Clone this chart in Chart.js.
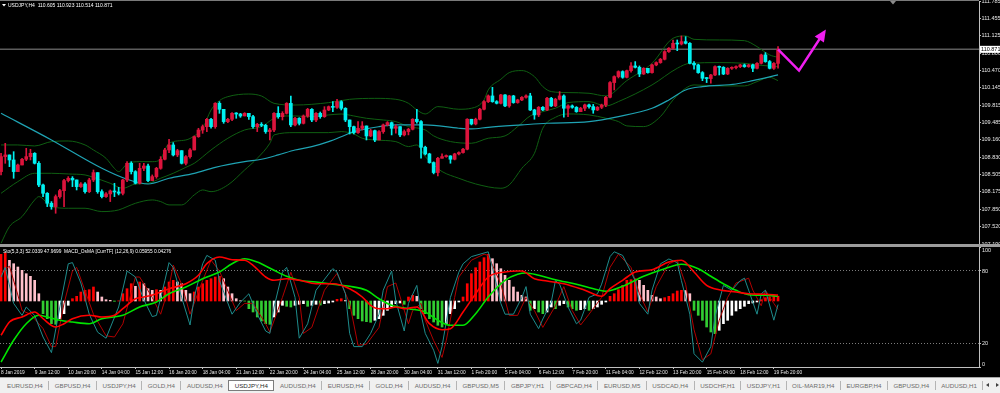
<!DOCTYPE html>
<html>
<head>
<meta charset="utf-8">
<script src="https://cdn.jsdelivr.net/npm/chart.js@4.4.0/dist/chart.umd.min.js"></script>
<style>
  html, body { margin: 0; padding: 0; background: #000; width: 1000px; height: 393px; overflow: hidden; }
  #main { position: absolute; left: 0; top: 0; }
  #sub { position: absolute; left: 0; top: 246px; }
  .topline { position: absolute; left: 0; top: 0; width: 979px; height: 1px; background: #7a7a7a; }
  .sep { position: absolute; left: 0; top: 244px; width: 1000px; height: 3px; background: #9c9c9c; }
  #tabs { position: absolute; left: 0; top: 377px; width: 1000px; height: 16px; box-sizing: border-box;
          background: #f0f0f0; border-top: 1px solid #a8a8a8; display: flex; align-items: center;
          font: 6.2px "Liberation Sans", Arial, sans-serif; color: #6c6c6c; white-space: nowrap; overflow: hidden; }
  .tab { padding: 0 5.5px; border-right: 1px solid #b4b4b4; line-height: 9px; }
  .tab:first-child { padding-left: 7px; }
  .tab.act { background: #fff; border: 1px solid #7c7c7c; color: #2a2a2a; line-height: 9px; margin-left: -1px; }
  .arr { position: absolute; top: 5px; width: 0; height: 0; border-top: 2.5px solid transparent; border-bottom: 2.5px solid transparent; }
</style>
</head>
<body>
<canvas id="main" width="1000" height="246" style="width:1000px;height:246px"></canvas>
<canvas id="sub" width="1000" height="131" style="width:1000px;height:131px"></canvas>
<div class="topline"></div>
<div class="sep"></div>
<div id="tabs"></div>
<script>
// ---- chart data (USDJPY H4) ----
const symbolName = 'USDJPY,H4';
const firstOpen = 108.559;

const closes = [
  108.842, 108.874, 108.779, 108.559, 108.684, 108.792, 108.842, 108.905, 108.716, 108.306,
  108.149, 107.960, 107.897, 108.086, 108.199, 108.389, 108.433, 108.401, 108.275, 108.325,
  108.180, 108.401, 108.540, 108.180, 108.086, 108.137, 108.193, 108.174, 108.149, 108.401,
  108.716, 108.559, 108.338, 108.621, 108.665, 108.389, 108.464, 108.621, 108.792, 108.968,
  109.063, 108.874, 108.955, 108.716, 108.842, 108.968, 109.220, 109.346, 109.409, 109.548,
  109.409, 109.850, 109.737, 109.504, 109.548, 109.661, 109.648, 109.611, 109.661, 109.598,
  109.409, 109.453, 109.434, 109.315, 109.346, 109.661, 109.598, 109.661, 109.850, 109.441,
  109.567, 109.472, 109.611, 109.737, 109.535, 109.661, 109.598, 109.724, 109.787, 109.774,
  109.882, 109.756, 109.535, 109.409, 109.296, 109.378, 109.422, 109.233, 109.333, 109.157,
  109.315, 109.441, 109.485, 109.378, 109.410, 109.253, 109.316, 109.360, 109.549, 109.505,
  109.019, 108.893, 108.730, 108.541, 108.811, 108.843, 108.855, 108.793, 108.893, 108.919,
  108.982, 109.549, 109.460, 109.549, 109.738, 109.882, 109.990, 109.882, 109.851, 110.009,
  109.801, 109.990, 109.864, 109.914, 109.964, 109.990, 109.725, 109.631, 109.775, 109.725,
  109.946, 109.801, 109.927, 109.990, 109.757, 109.801, 109.775, 109.693, 109.757, 109.820,
  109.788, 109.725, 109.775, 109.819, 109.964, 110.242, 110.355, 110.450, 110.342, 110.468,
  110.557, 110.531, 110.405, 110.512, 110.431, 110.576, 110.620, 110.683, 110.828, 110.891,
  110.985, 110.972, 111.017, 110.985, 110.607, 110.576, 110.431, 110.324, 110.318, 110.386,
  110.544, 110.531, 110.405, 110.512, 110.525, 110.544, 110.576, 110.544, 110.576, 110.512,
  110.607, 110.765, 110.639, 110.512, 110.605, 110.871
];
const highs = [
  108.905, 109.094, 108.842, 108.936, 108.703, 108.811, 109.000, 108.981, 108.918, 108.747,
  108.325, 108.162, 107.992, 108.118, 108.225, 108.414, 108.464, 108.464, 108.401, 108.351,
  108.351, 108.433, 108.590, 108.527, 108.212, 108.162, 108.212, 108.338, 108.262, 108.414,
  108.747, 108.747, 108.577, 108.716, 108.716, 108.703, 108.496, 108.640, 108.842, 109.000,
  109.170, 109.107, 108.981, 108.955, 108.861, 108.993, 109.233, 109.378, 109.441, 109.567,
  109.567, 109.863, 109.882, 109.724, 109.567, 109.674, 109.674, 109.661, 109.674, 109.661,
  109.623, 109.472, 109.485, 109.453, 109.378, 109.674, 109.787, 109.692, 109.863, 109.989,
  109.585, 109.579, 109.630, 109.756, 109.749, 109.674, 109.686, 109.787, 109.800, 109.882,
  109.926, 109.900, 109.768, 109.535, 109.422, 109.504, 109.504, 109.422, 109.359, 109.346,
  109.333, 109.459, 109.504, 109.497, 109.442, 109.379, 109.347, 109.379, 109.560, 109.738,
  109.523, 109.040, 108.906, 108.743, 108.830, 108.893, 108.874, 108.860, 108.906, 108.932,
  109.000, 109.560, 109.549, 109.570, 109.757, 109.901, 110.009, 110.153, 109.901, 110.022,
  110.015, 110.002, 110.002, 109.927, 109.977, 110.009, 110.040, 109.738, 109.790, 109.788,
  109.964, 109.964, 109.946, 110.072, 110.009, 109.820, 109.820, 109.788, 109.775, 109.838,
  109.838, 109.830, 109.790, 109.835, 109.980, 110.260, 110.370, 110.465, 110.465, 110.481,
  110.620, 110.639, 110.557, 110.525, 110.512, 110.590, 110.635, 110.700, 110.846, 110.905,
  111.048, 111.048, 111.124, 111.111, 110.998, 110.639, 110.590, 110.450, 110.342, 110.400,
  110.560, 110.555, 110.544, 110.525, 110.540, 110.557, 110.590, 110.594, 110.590, 110.590,
  110.620, 110.780, 110.809, 110.660, 110.620, 110.923
];
const lows = [
  108.496, 108.716, 108.653, 108.433, 108.559, 108.684, 108.766, 108.779, 108.703, 108.275,
  108.086, 107.897, 107.847, 107.771, 108.055, 107.897, 108.363, 108.275, 108.212, 108.262,
  108.149, 108.162, 108.370, 108.149, 108.061, 108.073, 107.992, 108.086, 108.118, 108.118,
  108.370, 108.514, 108.325, 108.325, 108.577, 108.370, 108.401, 108.433, 108.603, 108.779,
  108.918, 108.855, 108.842, 108.703, 108.684, 108.811, 108.968, 109.207, 109.283, 109.315,
  109.378, 109.378, 109.661, 109.472, 109.485, 109.522, 109.567, 109.585, 109.611, 109.548,
  109.378, 109.315, 109.409, 109.283, 109.157, 109.315, 109.567, 109.535, 109.648, 109.409,
  109.422, 109.441, 109.459, 109.585, 109.504, 109.504, 109.567, 109.585, 109.711, 109.692,
  109.756, 109.724, 109.504, 109.270, 109.270, 109.283, 109.346, 109.157, 109.220, 109.126,
  109.157, 109.283, 109.422, 109.252, 109.284, 109.221, 109.234, 109.253, 109.347, 109.473,
  108.811, 108.874, 108.717, 108.516, 108.478, 108.811, 108.830, 108.717, 108.780, 108.874,
  108.906, 108.970, 109.442, 109.442, 109.536, 109.725, 109.864, 109.870, 109.838, 109.838,
  109.788, 109.775, 109.851, 109.851, 109.901, 109.946, 109.712, 109.549, 109.599, 109.712,
  109.712, 109.788, 109.788, 109.914, 109.586, 109.599, 109.757, 109.680, 109.693, 109.712,
  109.757, 109.662, 109.712, 109.750, 109.788, 109.950, 110.103, 110.330, 110.324, 110.330,
  110.440, 110.518, 110.355, 110.395, 110.418, 110.418, 110.560, 110.607, 110.670, 110.815,
  110.872, 110.846, 110.954, 110.972, 110.594, 110.494, 110.418, 110.279, 110.242, 110.229,
  110.373, 110.386, 110.392, 110.392, 110.490, 110.500, 110.525, 110.531, 110.531, 110.450,
  110.500, 110.594, 110.626, 110.500, 110.490, 110.514
];

// Bollinger bands and cyan moving average, read as [bar, price]
const bbUpperPts = [[0,109.063],[4,109.063],[8,109.044],[12,109.126],[16,109.138],[20,109.063],[22,108.968],[25,108.81],[27,108.62],[28,108.559],[30,108.703],[33,108.747],[36,108.747],[38,108.79],[39,108.968],[40,109.094],[44,109.157],[46,109.233],[48,109.378],[50,109.724],[52,109.9],[54,109.976],[59,110.026],[62,109.989],[65,109.85],[70,109.818],[78,109.863],[83,109.926],[89,109.944],[94,109.926],[97,109.851],[99,109.725],[101,109.649],[104,109.788],[109,109.738],[112,109.757],[115,109.914],[116,110.103],[119,110.305],[121,110.431],[124,110.469],[127,110.355],[129,110.166],[131,110.072],[135,110.053],[140,110.04],[144,109.99],[149,110.28],[155,110.607],[160,111.08],[163,111.124],[165,111.06],[171,111.048],[177,111.035],[180,110.922],[183,110.765],[185,110.72]];
const bbMiddlePts = [[0,108.149],[4,108.37],[8,108.527],[12,108.527],[16,108.514],[20,108.496],[22,108.45],[26,108.338],[29,108.243],[32,108.325],[35,108.338],[38,108.433],[41,108.527],[44,108.64],[46,108.716],[50,108.968],[54,109.189],[58,109.346],[62,109.409],[65,109.567],[67,109.611],[70,109.611],[74,109.598],[78,109.63],[81,109.648],[84,109.611],[87,109.567],[91,109.535],[94,109.504],[97,109.41],[101,109.347],[103,109.234],[107,109.127],[112,109.095],[116,109.19],[120,109.234],[123,109.41],[126,109.612],[129,109.693],[132,109.757],[135,109.864],[140,109.882],[144,109.8],[147,109.883],[155,110.198],[161,110.513],[164,110.607],[171,110.62],[177,110.607],[180,110.576],[185,110.544]];
const bbLowerPts = [[0,107.204],[2,107.519],[5,107.708],[8,108.023],[9,108.086],[12,107.897],[16,107.866],[20,107.866],[24,107.803],[28,107.834],[30,107.897],[32,107.96],[36,108.023],[38,107.992],[40,107.929],[43,107.929],[46,108.118],[48,108.212],[50,108.18],[54,108.306],[58,108.59],[61,108.81],[64,109.094],[65,109.252],[70,109.296],[78,109.296],[81,109.315],[84,109.27],[86,109.189],[89,109.157],[94,109.126],[97,109.032],[99,109.063],[101,108.843],[103,108.686],[105,108.56],[109,108.433],[113,108.326],[119,108.244],[121,108.307],[124,108.622],[127,108.906],[129,109.379],[132,109.586],[135,109.649],[140,109.631],[144,109.568],[147,109.505],[149,109.423],[153,109.41],[157,109.599],[160,109.914],[163,110.135],[165,110.198],[171,110.179],[177,110.179],[180,110.261],[183,110.342],[185,110.279]];
const maPts = [[0,109.661],[12,109.157],[24,108.621],[30,108.414],[35,108.325],[40,108.433],[46,108.527],[51,108.64],[58,108.747],[62,108.792],[66,108.874],[70,108.968],[74,109.031],[78,109.126],[82,109.252],[84,109.315],[90,109.409],[94,109.441],[101,109.442],[109,109.379],[112,109.366],[116,109.397],[124,109.442],[130,109.473],[140,109.505],[147,109.599],[155,109.757],[159,109.914],[163,110.103],[167,110.166],[175,110.216],[179,110.279],[185,110.387]];

// hand-drawn arrow (bar, price)
const arrowBars = [185, 190, 196];
const arrowPrices = [110.87, 110.47, 111.2];

// indicator window
const macdHist = [
  0.467, 0.480, 0.407, 0.373, 0.340, 0.307, 0.273, 0.247, 0.207, 0.073,
  -0.127, -0.177, -0.227, -0.233, -0.177, -0.127, -0.043, 0.023, 0.047, 0.090,
  0.107, 0.113, 0.140, 0.090, 0.040, 0.013, 0.007, -0.003, 0.001, 0.073,
  0.123, 0.173, 0.147, 0.190, 0.173, 0.123, 0.107, 0.113, 0.107, 0.140,
  0.190, 0.207, 0.190, 0.173, 0.107, 0.073, 0.090, 0.140, 0.173, 0.207,
  0.223, 0.240, 0.247, 0.223, 0.140, 0.073, 0.023, 0.003, -0.001, -0.077,
  -0.110, -0.160, -0.200, -0.227, -0.233, -0.160, -0.110, -0.043, -0.053, -0.060,
  -0.043, -0.033, -0.027, -0.053, -0.043, -0.033, -0.040, -0.027, -0.020, -0.010,
  0.017, 0.023, 0.007, -0.077, -0.143, -0.177, -0.200, -0.207, -0.213, -0.193,
  -0.177, -0.143, -0.093, -0.060, -0.027, -0.020, -0.033, 0.040, 0.057, 0.047,
  -0.077, -0.127, -0.177, -0.210, -0.243, -0.260, -0.227, -0.127, -0.077, -0.010,
  0.040, 0.173, 0.273, 0.333, 0.390, 0.433, 0.467, 0.423, 0.373, 0.323,
  0.257, 0.207, 0.140, 0.090, 0.057, 0.040, -0.093, -0.077, -0.110, -0.127,
  -0.110, -0.060, -0.077, -0.043, -0.027, -0.060, -0.077, -0.093, -0.087, -0.077,
  -0.093, -0.077, -0.060, -0.033, -0.010, 0.047, 0.073, 0.113, 0.157, 0.207,
  0.213, 0.223, 0.207, 0.157, 0.107, 0.057, 0.040, 0.023, 0.033, 0.047,
  0.073, 0.100, 0.107, 0.105, 0.073, -0.093, -0.143, -0.193, -0.260, -0.310,
  -0.327, -0.293, -0.227, -0.193, -0.143, -0.100, -0.077, -0.053, -0.027, -0.020,
  -0.010, 0.013, 0.033, 0.040, 0.047, 0.048
];
const macdMainPts = [[0,-0.343],[2,-0.21],[5,-0.16],[8,-0.11],[10,-0.177],[13,-0.26],[15,-0.227],[17,-0.177],[21,-0.143],[24,-0.16],[27,-0.143],[29,-0.077],[32,0.023],[34,0.04],[37,0.073],[40,0.123],[44,0.173],[47,0.257],[49,0.373],[52,0.44],[55,0.413],[58,0.407],[60,0.357],[63,0.24],[65,0.207],[68,0.223],[71,0.207],[75,0.173],[79,0.173],[83,0.123],[86,0.04],[88,-0.043],[90,-0.077],[92,-0.077],[94,-0.06],[96,-0.077],[99,-0.06],[102,-0.227],[105,-0.287],[107,-0.277],[110,-0.11],[113,0.073],[116,0.24],[120,0.29],[123,0.3],[124,0.3],[127,0.223],[130,0.2],[134,0.173],[139,0.107],[143,0.047],[145,0.123],[148,0.207],[151,0.29],[155,0.313],[159,0.39],[162,0.407],[165,0.29],[168,0.157],[171,0.113],[175,0.09],[178,0.073],[182,0.067],[185,0.06]];
const macdSignalPts = [[0,-0.61],[3,-0.393],[6,-0.227],[9,-0.143],[11,-0.16],[14,-0.193],[17,-0.21],[21,-0.227],[24,-0.177],[29,-0.143],[33,-0.06],[37,-0.01],[40,0.073],[44,0.14],[48,0.223],[52,0.29],[55,0.373],[58,0.423],[61,0.39],[65,0.307],[68,0.247],[71,0.207],[75,0.19],[79,0.167],[83,0.147],[87,0.107],[90,0.023],[93,-0.043],[97,-0.077],[101,-0.11],[104,-0.193],[107,-0.243],[110,-0.243],[113,-0.127],[116,0.04],[120,0.207],[123,0.267],[125,0.28],[128,0.257],[132,0.213],[137,0.167],[142,0.113],[144,0.097],[148,0.147],[153,0.247],[158,0.323],[162,0.367],[166,0.323],[169,0.247],[172,0.173],[175,0.107],[178,0.063],[182,0.057],[185,0.047]];
const stochMainPts = [[0,75],[1,83],[3,53],[5,43],[6,50],[8,43],[10,25],[12,12],[14,50],[16,86],[17,87],[19,70],[21,44],[23,29],[25,24],[28,50],[30,80],[32,75],[34,56],[36,42],[37,43],[39,72],[40,87],[41,83],[43,58],[45,35],[46,58],[48,86],[49,93],[51,89],[52,72],[55,44],[57,54],[59,61],[61,44],[63,30],[64,28],[65,50],[67,79],[68,83],[70,58],[71,24],[73,36],[75,64],[79,82],[80,79],[82,61],[83,28],[84,17],[86,17],[88,28],[90,44],[91,64],[93,80],[94,55],[96,30],[97,53],[99,68],[100,44],[101,28],[103,14],[104,3],[105,17],[107,58],[109,79],[110,86],[112,92],[116,96],[117,83],[119,53],[120,44],[122,44],[124,58],[125,67],[126,44],[128,32],[129,40],[131,54],[132,72],[133,69],[135,50],[137,36],[138,39],[140,58],[142,61],[143,69],[145,92],[146,96],[148,93],[151,72],[152,53],[154,44],[155,64],[157,86],[159,90],[161,87],[162,72],[164,44],[165,11],[167,4],[169,17],[170,42],[172,68],[174,64],[176,72],[177,74],[178,64],[180,44],[181,61],[182,64],[184,39],[185,52]];
const stochSignalPts = [[0,79],[2,84],[4,60],[5,47],[7,44],[10,32],[12,17],[13,17],[15,53],[17,80],[18,83],[22,44],[25,26],[27,25],[29,36],[32,75],[33,75],[36,58],[38,44],[40,67],[41,85],[43,69],[45,44],[48,72],[50,89],[52,80],[56,47],[58,53],[60,53],[63,36],[64,29],[67,58],[69,79],[71,58],[72,28],[74,33],[77,64],[80,78],[83,53],[85,18],[87,19],[90,33],[92,67],[94,70],[97,36],[98,47],[100,53],[101,39],[103,22],[105,8],[106,22],[108,58],[109,75],[112,89],[115,94],[116,93],[119,69],[121,43],[123,43],[125,58],[127,47],[129,33],[132,51],[134,67],[136,47],[138,35],[140,44],[143,58],[145,83],[147,94],[150,83],[152,61],[154,46],[156,67],[159,86],[161,89],[163,69],[165,31],[167,6],[169,11],[171,39],[173,58],[175,70],[178,74],[179,64],[181,51],[182,64],[184,53],[185,48]];
const subTitle = 'Sto(5,3,3) 52.0339 47.9699  MACD_OsMA [CurrTF] (12,26,9) 0.05955 0.04276';

// axes
const priceTicks = [111.785, 111.455, 111.125, 110.800, 110.470, 110.145, 109.815, 109.485, 109.160, 108.830, 108.505, 108.175, 107.850, 107.520, 107.190];
const stochLevels = [100, 80, 20, 0];
const timeLabels = ['8 Jan 2019', '9 Jan 12:00', '10 Jan 20:00', '14 Jan 04:00', '15 Jan 12:00', '16 Jan 20:00', '18 Jan 04:00', '21 Jan 12:00', '22 Jan 20:00', '24 Jan 04:00', '25 Jan 12:00', '28 Jan 20:00', '30 Jan 04:00', '31 Jan 12:00', '1 Feb 20:00', '5 Feb 04:00', '6 Feb 12:00', '7 Feb 20:00', '11 Feb 04:00', '12 Feb 12:00', '13 Feb 20:00', '15 Feb 04:00', '18 Feb 12:00', '19 Feb 20:00'];
const labelStep = 8;
const tabNames = ['EURUSD,H4', 'GBPUSD,H4', 'USDJPY,H4', 'GOLD,H4', 'AUDUSD,H4', 'USDJPY,H4', 'AUDUSD,H4', 'EURUSD,H4', 'GOLD,H4', 'AUDUSD,H4', 'GBPUSD,M5', 'GBPJPY,H1', 'GBPCAD,H4', 'EURUSD,M5', 'USDCAD,H4', 'USDCHF,H1', 'USDJPY,H1', 'OIL-MAR19,H4', 'EURGBP,H4', 'GBPUSD,H4', 'AUDUSD,H1'];
const activeTab = 5;

// ---- setup ----
Chart.defaults.font.family = '"Liberation Sans", Arial, sans-serif';
Chart.defaults.animation = false;

const xMin = -0.25, xMax = 232.85;
const bullColor = '#dc143c', bearColor = '#00f0f0';
const arrowColor = '#f01ef0';
const pts = arr => arr.map(([x, y]) => ({x, y}));

const opens = [firstOpen].concat(closes.slice(0, -1));
const candleColors = closes.map((c, i) => c >= opens[i] ? bullColor : bearColor);
const bodies = closes.map((c, i) => ({x: i, y: [opens[i], c]}));
const wicks = closes.map((c, i) => ({x: i, y: [Math.min(lows[i], opens[i], c), Math.max(highs[i], opens[i], c)]}));
const last = closes.length - 1;
const bidPrice = closes[last];

const histColors = macdHist.map((v, i) => {
  const prev = i ? macdHist[i - 1] : v;
  if (v >= 0) return v >= prev ? '#ff0000' : '#ffc0cb';
  return v < prev ? '#32cd32' : '#ffffff';
});

const noPad = s => { s.paddingTop = 0; s.paddingBottom = 0; s.paddingLeft = 0; s.paddingRight = 0; };

const mainDecor = {
  id: 'mainDecor',
  beforeDatasetsDraw(chart) {
    const {ctx, chartArea: a, scales: {y}} = chart;
    const py = y.getPixelForValue(bidPrice);
    ctx.save();
    ctx.strokeStyle = '#5c5c5c';
    ctx.lineWidth = 1.5;
    ctx.beginPath(); ctx.moveTo(a.left, py); ctx.lineTo(a.right, py); ctx.stroke();
    ctx.restore();
  },
  afterDraw(chart) {
    const {ctx, chartArea: a, scales: {y}} = chart;
    // arrow head on the drawn arrow
    const p = chart.getDatasetMeta(0).data;
    const p1 = p[p.length - 2], p2 = p[p.length - 1];
    const ang = Math.atan2(p2.y - p1.y, p2.x - p1.x);
    ctx.save();
    ctx.fillStyle = arrowColor;
    ctx.translate(p2.x, p2.y);
    ctx.rotate(ang);
    ctx.beginPath(); ctx.moveTo(3, 0); ctx.lineTo(-9, -5.5); ctx.lineTo(-9, 5.5); ctx.closePath(); ctx.fill();
    ctx.restore();

    ctx.save();
    // current price label
    const py = y.getPixelForValue(bidPrice);
    ctx.fillStyle = '#ffffff';
    ctx.fillRect(a.right + 1, py - 3.5, 21, 7);
    ctx.fillStyle = '#000000';
    ctx.font = '5.5px "Liberation Sans"';
    ctx.textBaseline = 'middle';
    ctx.fillText(bidPrice.toFixed(3), a.right + 2, py + 0.5);
    // header
    ctx.fillStyle = '#ffffff';
    ctx.beginPath(); ctx.moveTo(2, 4); ctx.lineTo(6, 4); ctx.lineTo(4, 6.5); ctx.closePath(); ctx.fill();
    ctx.font = '5px "Liberation Sans"';
    const ohlc = [opens[last], highs[last], lows[last], closes[last]].map(v => v.toFixed(3)).join(' ');
    ctx.fillText(symbolName + '  ' + ohlc, 8, 5.5);
    // chart shift marker
    ctx.fillStyle = '#8a8a8a';
    ctx.beginPath(); ctx.moveTo(a.right - 89, 1); ctx.lineTo(a.right - 83, 1); ctx.lineTo(a.right - 86, 4.5); ctx.closePath(); ctx.fill();
    ctx.restore();
  }
};

new Chart(document.getElementById('main'), {
  type: 'bar',
  data: {
    datasets: [
      {type: 'line', data: arrowBars.map((b, i) => ({x: b, y: arrowPrices[i]})), borderColor: arrowColor, borderWidth: 2.5, pointRadius: 0, tension: 0},
      {type: 'bar', data: bodies, backgroundColor: candleColors, grouped: false, barThickness: 3, maxBarThickness: 3, minBarLength: 1},
      {type: 'bar', data: wicks, backgroundColor: candleColors, grouped: false, barThickness: 1, maxBarThickness: 1, minBarLength: 1},
      {type: 'line', data: pts(maPts), borderColor: '#1fa3b3', borderWidth: 1.2, pointRadius: 0, cubicInterpolationMode: 'monotone'},
      {type: 'line', data: pts(bbUpperPts), borderColor: '#0f5f12', borderWidth: 1, pointRadius: 0, cubicInterpolationMode: 'monotone'},
      {type: 'line', data: pts(bbMiddlePts), borderColor: '#0f5f12', borderWidth: 1, pointRadius: 0, cubicInterpolationMode: 'monotone'},
      {type: 'line', data: pts(bbLowerPts), borderColor: '#0f5f12', borderWidth: 1, pointRadius: 0, cubicInterpolationMode: 'monotone'}
    ]
  },
  options: {
    responsive: false,
    devicePixelRatio: 1,
    events: [],
    layout: {padding: {top: 1, bottom: 2, left: 0, right: 0}},
    plugins: {legend: {display: false}, tooltip: {enabled: false}},
    scales: {
      x: {type: 'linear', display: false, min: xMin, max: xMax, offset: false, grid: {offset: false}},
      y: {
        type: 'linear', position: 'right', min: priceTicks[priceTicks.length - 1], max: priceTicks[0],
        beginAtZero: false, bounds: 'data',
        afterBuildTicks: s => { s.ticks = priceTicks.map(v => ({value: v})); },
        afterFit: s => { s.width = 21; noPad(s); },
        ticks: {color: '#e8e8e8', font: {size: 5.5}, padding: 0.5, autoSkip: false, callback: v => v.toFixed(3)},
        grid: {drawOnChartArea: false, drawTicks: true, tickLength: 2, tickColor: '#c0c0c0'},
        border: {display: true, color: '#c0c0c0'}
      }
    }
  },
  plugins: [mainDecor]
});

const subDecor = {
  id: 'subDecor',
  afterDraw(chart) {
    const {ctx, chartArea: a, scales} = chart;
    const s = scales.yStoch;
    ctx.save();
    ctx.font = '5.5px "Liberation Sans"';
    ctx.fillStyle = '#e8e8e8';
    ctx.textBaseline = 'middle';
    stochLevels.forEach(v => {
      const py = Math.min(Math.max(s.getPixelForValue(v), a.top + 3), a.bottom - 3);
      ctx.fillText(String(v), a.right + 3, py);
    });
    ctx.fillStyle = '#ffffff';
    ctx.font = '4.8px "Liberation Sans"';
    ctx.fillText(subTitle, 3, a.top + 4.5);
    ctx.restore();
  }
};

new Chart(document.getElementById('sub'), {
  type: 'bar',
  data: {
    datasets: [
      {type: 'line', data: pts(macdMainPts), yAxisID: 'yMacd', borderColor: '#ff0000', borderWidth: 1.6, pointRadius: 0, cubicInterpolationMode: 'monotone'},
      {type: 'line', data: pts(macdSignalPts), yAxisID: 'yMacd', borderColor: '#00e400', borderWidth: 1.6, pointRadius: 0, cubicInterpolationMode: 'monotone'},
      {type: 'line', data: pts(stochMainPts), yAxisID: 'yStoch', borderColor: '#1e8c8c', borderWidth: 1, pointRadius: 0, tension: 0},
      {type: 'line', data: pts(stochSignalPts), yAxisID: 'yStoch', borderColor: '#b00000', borderWidth: 1, pointRadius: 0, tension: 0},
      {type: 'bar', data: macdHist.map((v, i) => ({x: i, y: v})), yAxisID: 'yMacd', backgroundColor: histColors, grouped: false, barThickness: 2, maxBarThickness: 2}
    ]
  },
  options: {
    responsive: false,
    devicePixelRatio: 1,
    events: [],
    layout: {padding: {top: 1, bottom: 0, left: 0, right: 0}},
    plugins: {legend: {display: false}, tooltip: {enabled: false}},
    scales: {
      x: {
        type: 'linear', position: 'bottom', min: xMin, max: xMax, offset: false,
        afterBuildTicks: s => { s.ticks = timeLabels.map((_, i) => ({value: i * labelStep})); },
        afterFit: s => { s.height = 10; noPad(s); },
        ticks: {autoSkip: false, maxRotation: 0, align: 'start', padding: 1, color: '#e8e8e8', font: {size: 4.8}, callback: (v, i) => timeLabels[i]},
        grid: {display: true, offset: false, drawOnChartArea: false, drawTicks: true, tickLength: 2, tickColor: '#c0c0c0', color: '#c0c0c0'},
        border: {display: true, color: '#c0c0c0'}
      },
      yStoch: {
        type: 'linear', position: 'right', min: 0, max: 100, beginAtZero: false,
        afterBuildTicks: s => { s.ticks = stochLevels.map(v => ({value: v})); },
        afterFit: s => { s.width = 21; noPad(s); },
        ticks: {display: false},
        grid: {
          drawOnChartArea: true, drawTicks: true, tickLength: 2, tickColor: '#c0c0c0',
          color: c => (c.tick && (c.tick.value === 80 || c.tick.value === 20)) ? '#7c7c7c' : 'rgba(0,0,0,0)'
        },
        border: {display: true, color: '#c0c0c0', dash: [1, 2]}
      },
      yMacd: {type: 'linear', display: false, min: -0.66, max: 0.54, beginAtZero: false}
    }
  },
  plugins: [subDecor]
});

// terminal tab strip
const tabs = document.getElementById('tabs');
tabNames.forEach((name, i) => {
  const el = document.createElement('span');
  el.className = 'tab' + (i === activeTab ? ' act' : '');
  el.textContent = name;
  tabs.appendChild(el);
});
[['left', 986, '#404040', 'border-right'], ['right', 996, '#404040', 'border-left']].forEach(([dir, x, col, side]) => {
  const a = document.createElement('div');
  a.className = 'arr';
  a.style.left = x + 'px';
  a.style[side === 'border-right' ? 'borderRight' : 'borderLeft'] = '3px solid ' + col;
  tabs.appendChild(a);
});
</script>
</body>
</html>
